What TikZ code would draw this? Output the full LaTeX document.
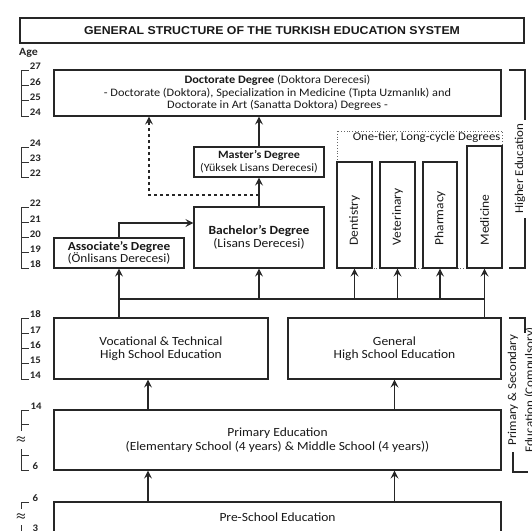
\documentclass[tikz,border=0pt]{standalone}
\usepackage{fontspec}
\setmainfont{Carlito}[FakeStretch=1.08]
\newfontfamily\titlefont{Liberation Sans}[FakeStretch=1.08]
\usepackage{tikz}
\usetikzlibrary{arrows.meta}

\begin{document}
\begin{tikzpicture}[x=1pt, y=-1pt,
    box/.style={draw=black!85, line width=1.1pt, fill=white, inner sep=0pt, align=center,
        text=black!90, font=\fontsize{12.5}{13}\selectfont},
    degtext/.style={rotate=90, anchor=west, inner sep=0pt, text=black!90, font=\fontsize{12.5}{13}\selectfont},
    sidelbl/.style={rotate=90, inner sep=0pt, text=black!90, font=\fontsize{12}{13}\selectfont},
    agelbl/.style={anchor=west, inner sep=0.5pt, yshift=3.5pt, text=black!85, font=\fontsize{10}{10}\selectfont\bfseries},
    axis/.style={draw=black!80, line width=0.9pt},
    line/.style={draw=black!85, line width=1.1pt},
    arr/.style={line, -{Stealth[length=8pt, width=8pt, inset=3pt]}}]
    \useasboundingbox (0,0) rectangle (532,530);
    \clip (0,0) rectangle (532,530);
    \fill[white] (0,0) rectangle (532,530);

    % Title and age column
    \node[box, minimum width=504, minimum height=25, font=\titlefont\fontsize{11.4}{13}\selectfont\bfseries]
        (title) at (272,30.5) {GENERAL STRUCTURE OF THE TURKISH EDUCATION SYSTEM};
    \node[anchor=west, inner sep=0pt, text=black!85, font=\fontsize{11}{12}\selectfont\bfseries] (agehead) at (19,53) {Age};

    % Higher education
    \node[box, minimum width=447, minimum height=46, font=\fontsize{11.4}{12.5}\selectfont] (doc) at (277.5,93)
        {\textbf{Doctorate Degree} (Doktora Derecesi)\\
         - Doctorate (Doktora), Specialization in Medicine (Tıpta Uzmanlık) and\\
         Doctorate in Art (Sanatta Doktora) Degrees -};
    \node[box, minimum width=130, minimum height=30, font=\fontsize{11.2}{13}\selectfont] (master) at (259,162)
        {\textbf{Master's Degree}\\(Yüksek Lisans Derecesi)};
    \node[box, minimum width=130, minimum height=61] (bach) at (259,237.5)
        {\textbf{Bachelor's Degree}\\(Lisans Derecesi)};
    \node[box, minimum width=130, minimum height=30, font=\fontsize{12.3}{12.5}\selectfont] (assoc) at (119,253)
        {\textbf{Associate's Degree}\\(Önlisans Derecesi)};

    % One-tier, long-cycle degrees
    \draw[draw=black!60, dotted, line width=0.8pt] (337,131) rectangle (502,268);
    \coordinate (onetier) at (502,131);
    \node[anchor=north east, inner sep=1.5pt, text=black!90, font=\fontsize{11.8}{12}\selectfont]
        (onetier-t) at (onetier) {One-tier, Long-cycle Degrees};
    \node[box, minimum width=35, minimum height=106] (dent) at (354.5,215) {};
    \node[box, minimum width=35, minimum height=106] (vet) at (397.5,215) {};
    \node[box, minimum width=34, minimum height=106] (pharm) at (440,215) {};
    \node[box, minimum width=35, minimum height=122] (med) at (484.5,207) {};
    \foreach \n/\t in {dent/Dentistry, vet/Veterinary, pharm/Pharmacy, med/Medicine}
        \node[degtext] (\n-t) at ([yshift=23pt]\n.south) {\t};

    % Secondary, primary and pre-school
    \node[box, minimum width=214, minimum height=61] (voc) at (161,348.5)
        {Vocational \& Technical\\High School Education};
    \node[box, minimum width=213, minimum height=61] (gen) at (394.5,348.5)
        {General\\High School Education};
    \node[box, minimum width=447, minimum height=60, font=\fontsize{12.5}{14}\selectfont] (prim) at (277.5,440)
        {Primary Education\\(Elementary School (4 years) \& Middle School (4 years))};
    \node[box, minimum width=447, minimum height=30] (pre) at (277.5,517)
        {Pre-School Education};

    % Connectors
    \draw[arr] (master.north) -- (master.north |- doc.south);
    \draw[arr] (bach.north) -- (master.south);
    \coordinate (dashsplit) at (bach.north |- 0,195);
    \coordinate (dashturn) at (149,195);
    \draw[arr, dashed] (dashsplit) -- (dashturn) -- (dashturn |- doc.south);
    \draw[arr] (assoc.north) |- ([yshift=14.5pt]bach.west);

    \coordinate (busL) at (assoc.south |- 0,299);
    \coordinate (busR) at (med.south |- 0,299);
    \draw[line] (voc.north -| busL) -- (busL) -- (busR) -- (busR |- gen.north);
    \foreach \n in {assoc, bach, dent, vet, pharm, med}
        \draw[arr] (\n.south |- busL) -- (\n.south);

    \coordinate (colA) at (148,0);
    \coordinate (colB) at (gen.south);
    \foreach \s/\t in {prim/voc, pre/prim} {
        \draw[arr] (colA |- \s.north) -- (colA |- \t.south);
        \draw[arr] (colB |- \s.north) -- (colB |- \t.south);
    }

    % Age scale
    \draw[axis] (21,70) -- (21,116);
    \foreach \y/\a in {70/27, 85.3/26, 100.7/25, 116/24}
        \draw[axis] (21,\y) -- (29,\y) node[agelbl] (ageA\a) {\a};
    \draw[axis] (21,147) -- (21,177);
    \foreach \y/\a in {147/24, 162/23, 177/22}
        \draw[axis] (21,\y) -- (29,\y) node[agelbl] (ageB\a) {\a};
    \draw[axis] (21,207) -- (21,268);
    \foreach \y/\a in {207/22, 222.25/21, 237.5/20, 252.75/19, 268/18}
        \draw[axis] (21,\y) -- (29,\y) node[agelbl] (ageC\a) {\a};
    \draw[axis] (21,318) -- (21,379);
    \foreach \y/\a in {318/18, 333.25/17, 348.5/16, 363.75/15, 379/14}
        \draw[axis] (21,\y) -- (29,\y) node[agelbl] (ageD\a) {\a};
    \draw[axis] (29,410) -| (21,431);
    \draw[axis] (21,449) |- (29,470);
    \draw[axis] (21,424) -- (29,424);
    \draw[axis] (21,455) -- (29,455);
    \node[agelbl, xshift=1pt] (ageE14) at (29,410) {14};
    \node[agelbl, xshift=3pt] (ageE6) at (29,470) {6};
    \node[inner sep=0pt, font=\fontsize{11}{11}\selectfont\boldmath] (gapE) at (21,440) {$\approx$};
    \draw[axis] (29,502) -| (21,509);
    \draw[axis] (21,525) |- (29,531);
    \node[agelbl, xshift=3pt] (ageF6) at (29,502) {6};
    \node[agelbl, xshift=3pt, yshift=-1pt] (ageF3) at (29,531) {3};
    \node[inner sep=0pt, font=\fontsize{11}{11}\selectfont\boldmath] (gapF) at (21,517) {$\approx$};

    % Side brackets
    \draw[line] (509,70) -| (525,120);
    \draw[line] (525,218) |- (509,268);
    \node[sidelbl] (higher) at (520,169) {Higher Education};
    \draw[line] (509,318) -| (525,333);
    \draw[line] (513,452) |- (528,472);
    \node[sidelbl] (compA) at (513,390) {Primary \& Secondary};
    \node[sidelbl] (compB) at (530,390) {Education (Compulsory)};
\end{tikzpicture}
\end{document}
